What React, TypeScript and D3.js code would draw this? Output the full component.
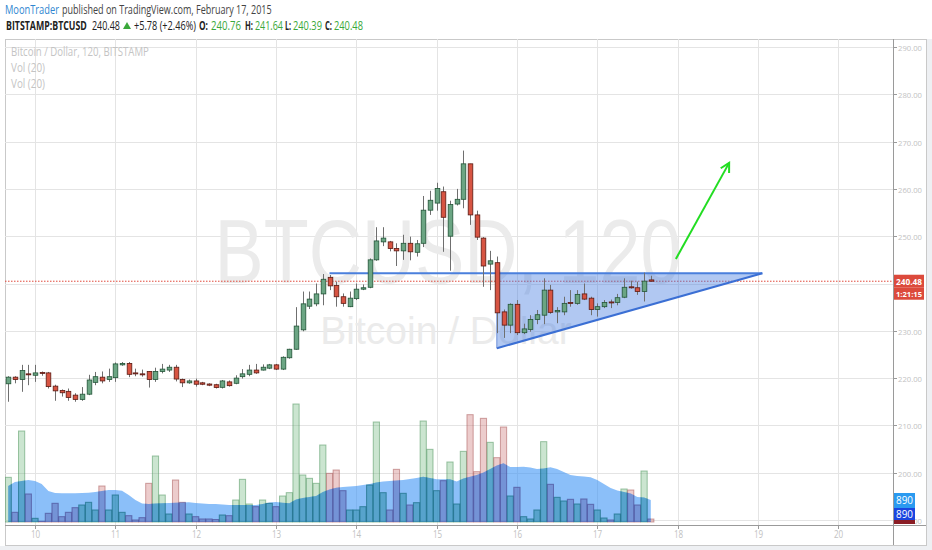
import React, { useLayoutEffect, useRef, useState } from "react";
import * as d3 from "d3";

// ---------- DATA ----------
const startTime = Date.UTC(2015, 1, 9, 16); // first 2h candle
const stepMs = 2 * 3600 * 1000;

const opens = [218.8,220.2,219.7,220.9,220.6,221.2,221.1,218.3,217.4,217.2,216.4,215.5,216.6,219.1,220.2,219.7,220.1,222.8,223.1,221.1,220.9,221.4,219.7,221.4,221.7,222.3,219.7,219.0,219.4,219.0,218.75,218.6,218.05,219.2,218.9,220.3,220.8,221.7,221.7,222.1,222.8,221.9,224.3,226.1,230.2,235.2,235.7,237.8,241.3,239.6,237.2,235.1,236.8,238.8,239.2,245.0,248.8,248.8,247.4,246.9,248.5,246.6,248.5,255.5,257.0,259.4,250.0,256.8,257.8,265.3,254.5,249.6,244.1,244.4,234.0,231.2,235.6,229.6,230.3,232.4,233.3,238.6,234.0,234.0,236.0,235.8,237.8,236.9,234.5,235.1,236.1,236.0,237.1,239.3,239.1,238.3,240.76];
const highs = [220.4,220.4,222.8,222.8,222.8,221.4,221.3,218.6,217.6,217.8,216.8,218.1,220.7,221.3,221.4,222.0,223.3,223.4,223.4,222.0,221.8,221.5,222.2,223.0,222.8,222.8,219.9,219.7,219.9,219.2,218.9,218.8,219.6,219.5,220.6,221.9,222.8,223.0,222.9,223.0,223.0,224.6,226.2,235.0,238.3,238.3,240.0,242.0,241.8,240.4,237.9,238.3,240.0,239.8,245.3,251.9,251.9,249.0,248.5,250.3,249.9,249.2,258.5,259.6,261.3,260.5,257.5,260.0,268.1,265.3,255.4,249.8,246.9,245.7,234.5,235.8,236.5,231.5,233.3,234.4,241.1,239.7,235.0,237.2,238.6,238.6,240.0,237.2,235.8,236.5,236.6,237.8,241.1,240.6,240.4,242.3,241.64];
const lows = [215.0,218.9,217.1,218.5,219.2,220.5,217.8,215.2,216.1,215.2,215.0,215.2,216.4,218.5,218.9,219.2,219.2,222.6,220.2,220.4,220.3,218.0,219.2,221.0,221.3,219.3,218.1,218.8,218.2,218.5,218.3,217.8,217.8,218.2,218.7,219.9,220.4,220.9,221.6,221.9,221.7,221.7,224.1,226.0,229.9,234.6,235.2,235.4,238.6,235.1,235.1,235.0,236.5,238.6,239.0,244.8,247.9,246.8,243.7,245.0,244.9,245.7,247.7,254.5,255.4,246.7,242.7,256.5,255.9,252.4,249.2,239.3,238.6,229.5,228.5,229.5,229.1,229.3,229.8,231.4,231.4,233.6,231.6,233.3,235.1,235.5,236.5,233.3,233.0,234.8,234.8,235.4,236.9,238.9,237.6,236.2,240.39];
const closes = [220.2,219.7,221.6,220.7,221.1,221.0,218.2,217.3,216.9,215.9,215.5,216.6,219.6,220.3,219.4,220.3,223.0,223.1,220.8,221.0,220.8,219.7,221.4,221.9,222.3,219.8,219.0,219.4,218.7,218.7,218.5,218.0,219.4,218.4,220.0,220.9,221.7,221.1,222.3,222.8,221.9,224.4,226.1,231.0,235.7,236.7,237.8,240.9,239.5,237.2,235.8,236.9,238.8,239.1,245.0,249.0,249.6,247.4,246.9,248.5,246.7,248.4,255.5,257.6,260.1,254.0,256.7,257.8,265.3,254.5,249.8,243.7,244.8,233.8,231.2,235.6,229.6,230.4,232.4,233.4,238.6,233.9,234.3,235.8,235.8,237.7,236.7,234.5,235.1,236.0,235.9,237.0,239.2,239.1,238.3,240.5,240.48];
const volumes = [13400,2900,27300,8400,1100,200,2600,5600,1600,2900,4300,5100,5900,3600,10800,3600,8100,2900,1900,600,1300,11600,19800,8100,2400,12600,5900,2400,1600,900,900,750,2100,1900,6600,12800,5400,4600,6600,5600,4600,7800,8800,35400,14100,13100,11600,23100,14600,15600,9400,3600,3600,4600,11100,30000,8800,3600,15800,8600,5100,5800,30300,21800,9400,12400,18000,5400,21200,32200,15100,31100,23900,19300,28500,7800,10400,1600,900,3600,24100,11300,7400,6300,6800,5400,6900,5300,3600,1200,600,2400,9900,9600,5100,15300,890];
const volumeMA = [10800,12000,12300,12600,12300,11400,9300,8700,8600,8600,8600,8700,8800,9000,9300,9600,9600,9400,8100,6600,5550,5400,5550,5600,5700,5800,5850,5900,5700,5550,5400,5400,5250,5100,5100,5100,5100,5100,5400,5850,6000,5800,5600,6750,7200,7500,7800,9000,9750,10300,10500,10650,10800,11100,11400,11850,12150,12300,12450,12600,12900,13200,13600,13200,12800,12800,12800,12150,13050,13600,14100,14850,15900,16950,17600,16500,16500,16600,16350,15900,16050,16400,15900,15000,14100,13800,13650,13400,12600,11400,10200,9450,9000,8550,7500,7350,6600];

const priceTicks = [190, 200, 210, 220, 230, 240, 250, 260, 270, 280, 290];
const dayTicks = [10, 11, 12, 13, 14, 15, 16, 17, 18, 19, 20];

const lastPrice = 240.48;
const countdown = "1:21:15";
const volumeLabel = "890";

// header segments: [text, x, width, colour, bold]
const headerLine1: [string, number, number, string, boolean][] = [
  ["MoonTrader", 5, 54, "#2f86d1", false],
  ["published on TradingView.com, February 17, 2015", 62, 210, "#444", false],
];
const headerLine2: [string, number, number, string, boolean][] = [
  ["BITSTAMP:BTCUSD", 6, 81, "#222", true],
  ["240.48", 92, 28, "#222", false],
  ["+5.78 (+2.46%)", 134, 62, "#222", false],
  ["O:", 199, 9, "#222", true],
  ["240.76", 211, 30, "#3aa83a", false],
  ["H:", 245, 8, "#222", true],
  ["241.64", 255, 28, "#3aa83a", false],
  ["L:", 285, 6, "#222", true],
  ["240.39", 293, 29, "#3aa83a", false],
  ["C:", 325, 7, "#222", true],
  ["240.48", 334, 29, "#3aa83a", false],
];

// drawings (time, price)
const resistanceStart = { t: Date.UTC(2015, 1, 13, 16), p: 242.15 };
const triangleTop = { t: Date.UTC(2015, 1, 15, 18), p: 242.15 };
const triangleBottom = { t: Date.UTC(2015, 1, 15, 18), p: 226.3 };
const triangleApex = { t: Date.UTC(2015, 1, 19, 1, 20), p: 242.15 };
const arrowStart = { t: Date.UTC(2015, 1, 17, 23, 30), p: 245.2 };
const arrowEnd = { t: Date.UTC(2015, 1, 18, 15, 25), p: 265.5 };

// ---------- LAYOUT ----------
const W = 932, H = 550;
const plotL = 5, plotT = 39, plotR = 893, plotB = 525, outerR = 926, outerB = 545;

const x = d3.scaleUtc().domain([Date.UTC(2015, 1, 10), Date.UTC(2015, 1, 20)]).range([35, 838.2]);
const y = d3.scaleLinear().domain([200, 290]).range([472.7, 47]);
const yv = d3.scaleLinear().domain([0, 36000]).range([522, 402]);

const UP = "#6ba583", DOWN = "#d75442";
const UP_B = "#225437", DOWN_B = "#5b1a13";

// Text condensed to a given width: the font size is reduced so the natural
// width fits, and (optionally) the group is stretched vertically back.
function FitText(props: { x: number; y: number; w: number; size: number; fill: string; bold?: boolean; stretch?: boolean; children: string }) {
  const ref = useRef<SVGTextElement>(null);
  const [s, setS] = useState(1);
  const stretch = props.stretch !== false;
  useLayoutEffect(() => {
    if (ref.current && s === 1) {
      const len = ref.current.getComputedTextLength();
      if (len > props.w) setS(props.w / len);
    }
  }, []);
  return (
    <g transform={`translate(${props.x},${props.y}) scale(1,${stretch ? 1 / s : 1})`}>
      <text ref={ref} x={0} y={0} fontSize={props.size * s} fill={props.fill} fontWeight={props.bold ? "bold" : "normal"}>
        {props.children}
      </text>
    </g>
  );
}

export default function App() {
  const candles = opens.map((o, i) => ({
    t: startTime + i * stepMs, o, h: highs[i], l: lows[i], c: closes[i], v: volumes[i], ma: volumeMA[i],
  }));
  const bw = 4.6;
  const vbw = 6.2;

  const area = d3.area<any>().x((d) => x(d.t)).y0(yv(0)).y1((d) => yv(d.ma)).curve(d3.curveLinear)(candles) || "";

  const triPts = [triangleTop, triangleApex, triangleBottom].map((p) => `${x(p.t)},${y(p.p)}`).join(" ");
  const ax1 = x(arrowStart.t), ay1 = y(arrowStart.p), ax2 = x(arrowEnd.t), ay2 = y(arrowEnd.p);
  const ang = Math.atan2(ay2 - ay1, ax2 - ax1);
  const hl = 10, ha = 0.5;
  const head = `M${ax2 - hl * Math.cos(ang - ha)},${ay2 - hl * Math.sin(ang - ha)} L${ax2},${ay2} L${ax2 - hl * Math.cos(ang + ha)},${ay2 - hl * Math.sin(ang + ha)}`;

  const lp = y(lastPrice);
  const font = "'Open Sans', 'Liberation Sans', sans-serif";
  const hidden = (p: number) => Math.abs(y(p) - lp) < 14;
  const triUp = `M123,29 L131,29 L127,22 Z`;

  return (
    <svg width={W} height={H} style={{ position: "absolute", left: 0, top: 0, background: "#fff" }} fontFamily={font}>
      <defs>
        <clipPath id="plot"><rect x={plotL} y={plotT} width={plotR - plotL} height={plotB - plotT} /></clipPath>
        <clipPath id="volarea"><path d={area} /></clipPath>
      </defs>
      <rect x={0} y={0} width={W} height={H} fill="#fff" />
      <rect x={0} y={outerB + 1} width={W} height={H - outerB} fill="#eef0f3" />
      <rect x={outerR + 1} y={plotT} width={W - outerR} height={H - plotT} fill="#eef0f3" />

      {/* header */}
      {headerLine1.map(([s, xx, w, col, b], i) => (
        <FitText key={"h1" + i} x={xx} y={14} w={w} size={12.5} fill={col} bold={b}>{s}</FitText>
      ))}
      {headerLine2.map(([s, xx, w, col, b], i) => (
        <FitText key={"h2" + i} x={xx} y={30} w={w} size={12.5} fill={col} bold={b}>{s}</FitText>
      ))}
      <path d={triUp} fill="#3aa83a" />

      {/* frame */}
      <rect x={plotL + 0.5} y={plotT + 0.5} width={outerR - plotL} height={outerB - plotT} fill="none" stroke="#c9c9c9" />

      {/* grid */}
      {dayTicks.map((d) => {
        const xx = Math.round(x(Date.UTC(2015, 1, d))) + 0.5;
        return <line key={"vg" + d} x1={xx} x2={xx} y1={plotT} y2={plotB} stroke="#e4e4e4" />;
      })}
      {priceTicks.map((p) => {
        const yy = Math.round(y(p)) + 0.5;
        return yy < plotB ? <line key={"hg" + p} x1={plotL} x2={plotR} y1={yy} y2={yy} stroke="#e4e4e4" /> : null;
      })}

      {/* watermark */}
      <text x={448} y={283} textAnchor="middle" fontSize={91} fill="#ebebeb" fontFamily="'Liberation Sans', Arial, sans-serif" textLength={467} lengthAdjust="spacingAndGlyphs">BTCUSD, 120</text>
      <text x={446} y={344} textAnchor="middle" fontSize={39} fill="#ebebeb" fontFamily="'Liberation Sans', Arial, sans-serif">Bitcoin / Dollar</text>

      {/* legend */}
      <FitText x={11} y={56} w={138} size={12} fill="#c4c4c4">Bitcoin / Dollar, 120, BITSTAMP</FitText>
      <FitText x={11} y={72} w={34} size={12} fill="#c4c4c4">Vol (20)</FitText>
      <FitText x={11} y={88} w={34} size={12} fill="#c4c4c4">Vol (20)</FitText>

      <g clipPath="url(#plot)">
        {/* volume bars */}
        {candles.map((d, i) => {
          const up = d.c >= d.o;
          return (
            <rect key={"v" + i} x={x(d.t) - vbw / 2} y={yv(d.v)} width={vbw} height={yv(0) - yv(d.v)}
              fill={up ? "rgba(107,180,120,0.35)" : "rgba(200,110,110,0.35)"}
              stroke={up ? "rgba(80,150,95,0.55)" : "rgba(170,90,90,0.55)"} strokeWidth={1} />
          );
        })}
        <path d={area} fill="rgba(55,145,245,0.58)" />
        <g clipPath="url(#volarea)">
          {candles.map((d, i) => {
            const up = d.c >= d.o;
            return (
              <rect key={"vv" + i} x={x(d.t) - vbw / 2} y={yv(d.v)} width={vbw} height={yv(0) - yv(d.v)}
                fill={up ? "rgba(10,120,140,0.28)" : "rgba(70,80,170,0.25)"}
                stroke={up ? "rgba(20,100,120,0.45)" : "rgba(70,70,150,0.45)"} strokeWidth={1} />
            );
          })}
        </g>

        {/* last price line */}
        <line x1={plotL} x2={plotR} y1={lp} y2={lp} stroke="#e0493b" strokeDasharray="1.5,1.5" strokeWidth={1} />

        {/* triangle */}
        <polygon points={triPts} fill="rgba(70,125,225,0.42)" stroke="none" />
        <line x1={x(resistanceStart.t)} x2={x(triangleApex.t)} y1={y(resistanceStart.p)} y2={y(triangleApex.p)} stroke="#4a7fdc" strokeWidth={2} />
        <line x1={x(triangleBottom.t)} x2={x(triangleApex.t)} y1={y(triangleBottom.p)} y2={y(triangleApex.p)} stroke="#3b6fd4" strokeWidth={2} />
        <line x1={x(triangleTop.t)} x2={x(triangleBottom.t)} y1={y(triangleTop.p)} y2={y(triangleBottom.p)} stroke="#6d8fd8" strokeWidth={1} />

        {/* candles */}
        {candles.map((d, i) => {
          const up = d.c >= d.o;
          const cx = Math.round(x(d.t)) + 0.5;
          const top = y(Math.max(d.o, d.c)), bot = y(Math.min(d.o, d.c));
          return (
            <g key={"c" + i}>
              <line x1={cx} x2={cx} y1={y(d.h)} y2={y(d.l)} stroke="#6f6f6f" strokeWidth={1} />
              <rect x={cx - bw / 2} y={top} width={bw} height={Math.max(1, bot - top)}
                fill={up ? UP : DOWN} stroke={up ? UP_B : DOWN_B} strokeWidth={0.8} />
            </g>
          );
        })}

        {/* green arrow */}
        <line x1={ax1} y1={ay1} x2={ax2} y2={ay2} stroke="#22dd22" strokeWidth={2} />
        <path d={head} fill="none" stroke="#22dd22" strokeWidth={2} />
      </g>

      {/* axes */}
      <line x1={plotR + 0.5} x2={plotR + 0.5} y1={plotT} y2={outerB} stroke="#9a9a9a" />
      <line x1={plotL} x2={outerR} y1={plotB + 0.5} y2={plotB + 0.5} stroke="#9a9a9a" />
      {priceTicks.map((p) => {
        const yy = Math.round(y(p)) + 0.5;
        return (
          <g key={"pt" + p}>
            <line x1={plotR} x2={plotR + 4} y1={yy} y2={yy} stroke="#9a9a9a" />
            {hidden(p) ? null : (
              <FitText x={898} y={yy + 3.5} w={24} size={10.5} fill="#c2c2c2" stretch={false}>{p.toFixed(2)}</FitText>
            )}
          </g>
        );
      })}
      {dayTicks.map((d) => {
        const xx = Math.round(x(Date.UTC(2015, 1, d))) + 0.5;
        return (
          <g key={"dt" + d}>
            <line x1={xx} x2={xx} y1={plotB} y2={plotB + 4} stroke="#9a9a9a" />
            <text x={xx} y={538} fontSize={10.5} fill="#c2c2c2" textAnchor="middle" textLength={String(d).length * 4.6} lengthAdjust="spacingAndGlyphs">{d}</text>
          </g>
        );
      })}

      {/* price labels */}
      <rect x={plotR + 1} y={lp - 6.5} width={30} height={13} fill="#dc4a3c" />
      <FitText x={plotR + 3} y={lp + 3.5} w={26} size={11} fill="#fff" bold stretch={false}>{lastPrice.toFixed(2)}</FitText>
      <rect x={plotR + 1} y={lp + 6.5} width={30} height={12} fill="#dc4a3c" />
      <FitText x={plotR + 3} y={lp + 16} w={26} size={10.5} fill="#fff" bold stretch={false}>{countdown}</FitText>

      <rect x={plotR + 1} y={493} width={21} height={15} fill="#2a9af0" />
      <FitText x={plotR + 3} y={504} w={17} size={11} fill="#fff" stretch={false}>{volumeLabel}</FitText>
      <rect x={plotR + 1} y={508} width={21} height={12} fill="#1a45e0" />
      <FitText x={plotR + 3} y={517.5} w={17} size={11} fill="#fff" stretch={false}>{volumeLabel}</FitText>
      <rect x={plotR + 1} y={520} width={21} height={4} fill="#8a1c24" />
    </svg>
  );
}
